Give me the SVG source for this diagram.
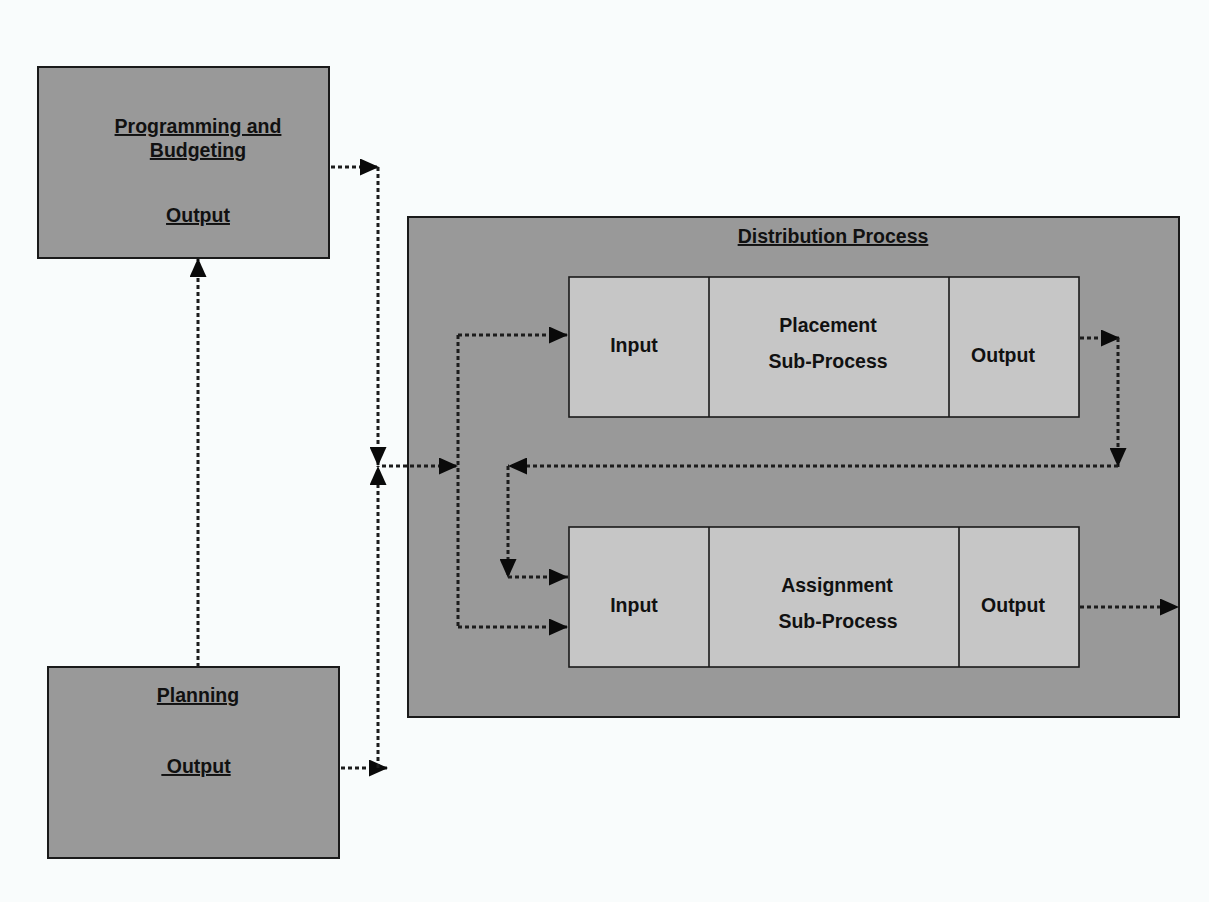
<svg xmlns="http://www.w3.org/2000/svg" width="1209" height="902" viewBox="0 0 1209 902">
  <defs>
    <style>
      .outer { fill: #999999; stroke: #1a1a1a; stroke-width: 2; }
      .sub { fill: #c6c6c6; stroke: #1a1a1a; stroke-width: 1.6; }
      .div { stroke: #1a1a1a; stroke-width: 1.6; }
      .head { font-family: "Liberation Sans", Arial, sans-serif; font-size: 19.5px; font-weight: bold; fill: #111; text-anchor: middle; text-decoration: underline; }
      .lbl { font-family: "Liberation Sans", Arial, sans-serif; font-size: 19.5px; font-weight: bold; fill: #111; text-anchor: middle; }
      .flow { fill: none; stroke: #1c1c1c; stroke-width: 3; stroke-dasharray: 4 3; }
    </style>
    <marker id="arrow" markerUnits="userSpaceOnUse" markerWidth="19" markerHeight="17" refX="19" refY="8.5" orient="auto">
      <path d="M0,0 L19,8.5 L0,17 Z" fill="#0a0a0a"/>
    </marker>
  </defs>

  <rect width="1209" height="902" fill="#f9fcfc"/>

  <!-- Programming and Budgeting -->
  <g id="programming-budgeting">
    <rect class="outer" x="38" y="67" width="291" height="191"/>
    <text class="head" x="198" y="133">Programming and</text>
    <text class="head" x="198" y="157">Budgeting</text>
    <text class="head" x="198" y="222">Output</text>
  </g>

  <!-- Planning -->
  <g id="planning">
    <rect class="outer" x="48" y="667" width="291" height="191"/>
    <text class="head" x="198" y="702">Planning</text>
    <text class="head" x="196" y="773">&#160;Output</text>
  </g>

  <!-- Distribution Process container -->
  <g id="distribution-process">
    <rect class="outer" x="408" y="217" width="771" height="500"/>
    <text class="head" x="833" y="243">Distribution Process</text>
  </g>

  <!-- Placement sub-process -->
  <g id="placement">
    <rect class="sub" x="569" y="277" width="510" height="140"/>
    <line class="div" x1="709" y1="277" x2="709" y2="417"/>
    <line class="div" x1="949" y1="277" x2="949" y2="417"/>
    <text class="lbl" x="634" y="352">Input</text>
    <text class="lbl" x="828" y="332">Placement</text>
    <text class="lbl" x="828" y="368">Sub-Process</text>
    <text class="lbl" x="1003" y="362">Output</text>
  </g>

  <!-- Assignment sub-process -->
  <g id="assignment">
    <rect class="sub" x="569" y="527" width="510" height="140"/>
    <line class="div" x1="709" y1="527" x2="709" y2="667"/>
    <line class="div" x1="959" y1="527" x2="959" y2="667"/>
    <text class="lbl" x="634" y="612">Input</text>
    <text class="lbl" x="837" y="592">Assignment</text>
    <text class="lbl" x="838" y="628">Sub-Process</text>
    <text class="lbl" x="1013" y="612">Output</text>
  </g>

  <!-- Connectors -->
  <g id="connectors">
    <!-- Planning up to Programming and Budgeting -->
    <path class="flow" d="M198,667 V258" marker-end="url(#arrow)"/>
    <!-- Programming and Budgeting output -->
    <path class="flow" d="M331,167 H379" marker-end="url(#arrow)"/>
    <path class="flow" d="M378,167 V466" marker-end="url(#arrow)"/>
    <!-- Planning output -->
    <path class="flow" d="M341,768 H388" marker-end="url(#arrow)"/>
    <path class="flow" d="M378,768 V466" marker-end="url(#arrow)"/>
    <!-- Into the distribution process -->
    <path class="flow" d="M382,466 H458" marker-end="url(#arrow)"/>
    <path class="flow" d="M458,335 V627"/>
    <path class="flow" d="M458,335 H568" marker-end="url(#arrow)"/>
    <path class="flow" d="M458,627 H568" marker-end="url(#arrow)"/>
    <!-- Placement output loops back to assignment input -->
    <path class="flow" d="M1080,338 H1120" marker-end="url(#arrow)"/>
    <path class="flow" d="M1118,338 V467" marker-end="url(#arrow)"/>
    <path class="flow" d="M1118,466 H508" marker-end="url(#arrow)"/>
    <path class="flow" d="M508,466 V578" marker-end="url(#arrow)"/>
    <path class="flow" d="M508,577 H568" marker-end="url(#arrow)"/>
    <!-- Assignment output -->
    <path class="flow" d="M1080,607 H1179" marker-end="url(#arrow)"/>
  </g>
</svg>
